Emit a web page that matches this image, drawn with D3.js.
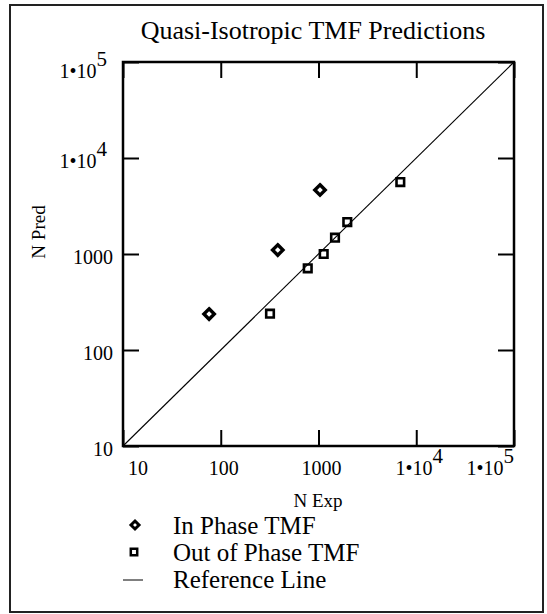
<!DOCTYPE html>
<html>
<head>
<meta charset="utf-8">
<script src="https://cdn.jsdelivr.net/npm/d3@7/dist/d3.min.js"></script>
<style>
  html, body { margin: 0; padding: 0; background: #fff; }
  svg { display: block; }
  svg text { font-family: "Liberation Serif", "Times New Roman", serif; fill: #000; }
</style>
</head>
<body>
<svg id="chart" width="547" height="614" font-family="Liberation Serif, serif"></svg>
<script>
// Cycles to failure: experimental vs predicted
const inPhaseExp   = [1036, 383, 76];
const inPhasePred  = [4640, 1100, 237];
const outPhaseExp  = [6870, 1970, 1475, 1130, 776, 319];
const outPhasePred = [5620, 2150, 1480, 1000, 710, 239];
const refLine      = [10, 100000];
const tickValues   = [10, 100, 1000, 10000, 100000];
const legendLabels = ["In Phase TMF", "Out of Phase TMF", "Reference Line"];

const svg = d3.select("#chart");
const L = 123, R = 514, T = 62, B = 446;

const x = d3.scaleLog().domain([10, 100000]).range([L, R]);
const y = d3.scaleLog().domain([10, 100000]).range([B, T]);

// outer frame
svg.append("rect").attr("x", 10).attr("y", 5).attr("width", 533).attr("height", 607)
  .attr("fill", "none").attr("stroke", "#222").attr("stroke-width", 2);

// title
svg.append("text").attr("x", 313).attr("y", 39).attr("text-anchor", "middle")
  .style("font-size", "26px").text("Quasi-Isotropic TMF Predictions");

// inward ticks on all four sides
const tickLen = 16;
const gB = svg.append("g").attr("transform", `translate(0,${B})`)
  .call(d3.axisBottom(x).tickValues(tickValues).tickSize(-tickLen).tickFormat(""));
const gT = svg.append("g").attr("transform", `translate(0,${T})`)
  .call(d3.axisTop(x).tickValues(tickValues).tickSize(-tickLen).tickFormat(""));
const gL = svg.append("g").attr("transform", `translate(${L},0)`)
  .call(d3.axisLeft(y).tickValues(tickValues).tickSize(-tickLen).tickFormat(""));
const gR = svg.append("g").attr("transform", `translate(${R},0)`)
  .call(d3.axisRight(y).tickValues(tickValues).tickSize(-tickLen).tickFormat(""));
[gB, gT, gL, gR].forEach(g => {
  g.select(".domain").remove();
  g.selectAll(".tick line").attr("stroke", "#000").attr("stroke-width", 2);
});

// plot box
svg.append("rect").attr("x", L).attr("y", T).attr("width", R - L).attr("height", B - T)
  .attr("fill", "none").attr("stroke", "#000").attr("stroke-width", 2.5);

// tick label with "1•10^n" form for large values
function tickLabel(sel, v) {
  const e = Math.round(Math.log10(v));
  if (v < 10000) { sel.text(String(v)); return; }
  sel.append("tspan").text("1\u202210");
  sel.append("tspan").attr("dy", "-0.55em").style("font-size", "21px").text(String(e));
}

// x tick labels
tickValues.forEach((v, i) => {
  const t = svg.append("text").attr("y", 475).style("font-size", "20px");
  if (i === 0) t.attr("x", L + 5).attr("text-anchor", "start");
  else if (i === tickValues.length - 1) t.attr("x", R).attr("text-anchor", "end");
  else t.attr("x", x(v) + 3).attr("text-anchor", "middle");
  tickLabel(t, v);
});

// y tick labels
tickValues.forEach((v, i) => {
  const yy = i === tickValues.length - 1 ? y(v) + 16 : y(v) + 10;
  const t = svg.append("text").attr("x", v >= 10000 ? 107 : 113).attr("y", yy)
    .attr("text-anchor", "end").style("font-size", "20px");
  tickLabel(t, v);
});

// axis titles
svg.append("text").attr("x", 318).attr("y", 507).attr("text-anchor", "middle")
  .style("font-size", "19px").text("N Exp");
svg.append("text").attr("transform", "translate(45,232) rotate(-90)")
  .attr("text-anchor", "middle").style("font-size", "19px").text("N Pred");

// reference line
svg.append("line")
  .attr("x1", x(refLine[0])).attr("y1", y(refLine[0]))
  .attr("x2", x(refLine[1])).attr("y2", y(refLine[1]))
  .attr("stroke", "#000").attr("stroke-width", 1.1);

const diamond = s => `M0,${-s}L${s},0L0,${s}L${-s},0Z`;
const square = s => `M${-s},${-s}H${s}V${s}H${-s}Z`;

// in-phase points
svg.append("g").selectAll("path").data(inPhaseExp).join("path")
  .attr("d", diamond(5.2))
  .attr("transform", (d, i) => `translate(${x(d)},${y(inPhasePred[i])})`)
  .attr("fill", "#fff").attr("stroke", "#000").attr("stroke-width", 3.4);

// out-of-phase points
svg.append("g").selectAll("path").data(outPhaseExp).join("path")
  .attr("d", square(3.8))
  .attr("transform", (d, i) => `translate(${x(d)},${y(outPhasePred[i])})`)
  .attr("fill", "none").attr("stroke", "#000").attr("stroke-width", 2.6);

// legend
const lg = svg.append("g");
lg.append("path").attr("d", diamond(4)).attr("transform", "translate(135,525)")
  .attr("fill", "#fff").attr("stroke", "#000").attr("stroke-width", 3);
lg.append("path").attr("d", square(3.2)).attr("transform", "translate(134,552)")
  .attr("fill", "#fff").attr("stroke", "#000").attr("stroke-width", 2.5);
lg.append("line").attr("x1", 123).attr("x2", 143).attr("y1", 580).attr("y2", 580)
  .attr("stroke", "#000").attr("stroke-width", 1);
legendLabels.forEach((s, i) => {
  lg.append("text").attr("x", 173).attr("y", 534 + i * 27).style("font-size", "25px").text(s);
});
</script>
</body>
</html>
